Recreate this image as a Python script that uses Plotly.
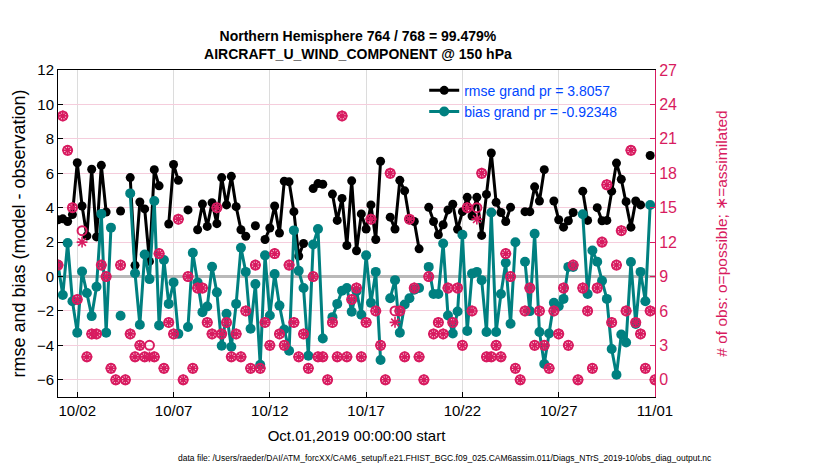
import numpy as np
import pandas as pd
import plotly.graph_objs as go

nan = np.nan

# 6-hourly bins, 2019-10-01 00:00 .. 2019-11-01 00:00
times = pd.date_range('2019-10-01 00:00', periods=125, freq='6h')

rmse = [3.30, 3.35, 3.20, 3.60, 6.61, 4.10, 2.36, 6.23, 2.30, 6.46,
        3.75, nan, nan, 3.81, nan, 5.75, 0.65, 4.33, 3.93, 0.88,
        6.21, 5.27, nan, 3.05, 6.51, 5.59, nan, 3.87, nan, 2.72,
        4.21, 2.91, 4.29, 3.07, 5.75, 4.16, 5.82, 4.06, 2.72, 2.34,
        nan, 2.95, nan, 2.15, 2.82, 4.10, 2.53, 5.54, 5.50, 3.77,
        1.19, 1.92, nan, 5.11, 5.40, 5.36, nan, 4.79, 3.26, 4.54,
        1.80, 5.56, 1.50, 3.64, 2.76, 4.16, 2.15, 6.70, nan, 3.45,
        2.76, 5.59, 4.98, 3.30, 3.20, 1.61, nan, 4.02, 3.20, 2.43,
        3.01, 3.87, 4.20, 2.75, 3.77, 4.60, 3.52, 4.60, 2.39, 4.77,
        7.18, 4.31, 3.72, 3.20, 4.02, nan, nan, 3.77, 3.77, 5.21,
        4.39, 6.21, nan, 4.39, 3.30, 2.87, 3.24, 3.72, nan, 4.96,
        3.26, nan, 4.00, 3.24, 3.26, 4.96, 6.59, 5.65, 4.35, 2.87,
        4.39, 4.16, nan, 7.03, nan]

bias = [0.68, -1.07, 1.95, -1.44, -3.26, 0.29, -0.96, -2.30, -0.59, 3.64,
        -3.26, 2.84, nan, -2.28, nan, 4.83, 0.19, -2.80, 1.28, -0.15,
        4.39, -2.84, 0.96, -1.59, -0.34, -3.33, nan, -2.93, 1.38, -0.34,
        -2.07, -1.74, 0.57, -0.92, -4.02, -2.16, -4.08, -1.59, 1.67, 0.27,
        -3.03, -0.44, -5.13, 1.23, -2.26, 0.15, -1.69, -3.08, -4.31, 2.68,
        0.33, -0.67, -4.60, 1.86, 2.76, -3.60, nan, -2.36, -1.59, -0.82,
        -0.67, -2.05, -0.85, -2.22, 1.23, -1.53, 0.27, -4.85, nan, -1.26,
        -0.21, -3.26, -1.63, -1.26, -0.77, -0.67, nan, 0.56, -1.02, -1.02,
        1.92, -2.26, -3.31, -2.03, 2.43, -3.16, 0.17, 0.27, -0.21, -3.22,
        3.72, -3.22, -1.02, 0.80, -2.74, 1.99, nan, 0.86, -2.01, 2.49,
        -3.22, -5.08, -3.31, -1.53, -1.72, -1.30, 0.56, 0.56, nan, 3.62,
        -1.02, 1.51, 0.86, -0.25, -1.30, -4.21, -5.71, -3.37, -3.83, 0.84,
        -2.76, 0.27, -1.44, 4.16, nan]

nposs = [10, 23, 20, 15, 7, 13, 2, 4, 4, 10,
         9, 1, 0, 10, 0, 4, 2, 3, 2, 3,
         2, 11, 1, 5, 4, 14, 0, 9, 1, 8,
         8, 5, 4, 15, 4, 5, 2, 4, 2, 6,
         1, 10, 1, 5, 3, 11, 4, 3, 10, 5,
         2, 4, 1, 9, 2, 2, 0, 5, 2, 23,
         2, 7, 8, 2, 5, 14, 6, 3, 0, 18,
         6, 6, 2, 14, 8, 2, 0, 9, 4, 5,
         4, 8, 5, 8, 3, 15, 6, 15, 18, 2,
         2, 3, 2, 11, 9, 1, 0, 6, 8, 3,
         6, 3, 1, 6, 4, 8, 3, 10, 0, 8,
         6, 1, 8, 12, 17, 5, 10, 13, 6, 20,
         5, 4, 1, 6, 0]

nused = [10, 23, 20, 15, 7, 12, 2, 4, 4, 10,
         9, 1, 0, 10, 0, 4, 2, 3, 2, 2,
         2, 11, 1, 5, 4, 14, 0, 9, 1, 8,
         8, 5, 4, 15, 4, 5, 2, 4, 2, 6,
         1, 10, 1, 5, 3, 11, 4, 3, 10, 5,
         2, 4, 1, 9, 2, 2, 0, 5, 2, 23,
         2, 7, 8, 2, 5, 14, 6, 3, 0, 18,
         5, 6, 2, 14, 8, 2, 0, 9, 4, 5,
         4, 8, 5, 8, 3, 15, 6, 14, 18, 2,
         2, 3, 2, 11, 9, 1, 0, 6, 8, 3,
         6, 3, 1, 6, 4, 8, 3, 10, 0, 8,
         6, 1, 8, 12, 17, 5, 10, 13, 6, 20,
         5, 4, 1, 6, 0]

tick_dates = ['2019-10-02', '2019-10-07', '2019-10-12', '2019-10-17',
              '2019-10-22', '2019-10-27', '2019-11-01']
tick_text = ['10/02', '10/07', '10/12', '10/17', '10/22', '10/27', '11/01']

teal = 'rgb(0,128,128)'
pink = 'rgb(216,27,96)'
font = 'Liberation Sans, Arial, sans-serif'

trace_rmse = go.Scatter(
    x=times, y=rmse, mode='lines+markers', name='rmse grand pr = 3.8057',
    line=dict(color='black', width=3),
    marker=dict(symbol='circle', size=9, color='black'),
    connectgaps=False
)
trace_bias = go.Scatter(
    x=times, y=bias, mode='lines+markers', name='bias grand pr = -0.92348',
    line=dict(color=teal, width=3),
    marker=dict(symbol='circle', size=10, color=teal),
    connectgaps=False
)
trace_poss = go.Scatter(
    x=times, y=nposs, mode='markers', yaxis='y2', showlegend=False,
    marker=dict(symbol='circle-open', size=9, color=pink, line=dict(width=2))
)
trace_used = go.Scatter(
    x=times, y=nused, mode='markers', yaxis='y2', showlegend=False,
    marker=dict(symbol='asterisk-open', size=9, color=pink, line=dict(width=1.6))
)

fig = go.Figure(data=[trace_rmse, trace_bias, trace_poss, trace_used])

# page body adds an 8px offset, margins compensate for it
fig.update_layout(
    width=830, height=470,
    margin=dict(l=50, r=183, t=62, b=81, autoexpand=False),
    paper_bgcolor='white', plot_bgcolor='white',
    font=dict(family=font, size=15, color='black'),
    title=dict(
        text='<b>Northern Hemisphere 764 / 768 = 99.479%<br>AIRCRAFT_U_WIND_COMPONENT @ 150 hPa</b>',
        x=0.4216, xanchor='center', y=0.93, yanchor='top',
        font=dict(size=14, color='black')
    ),
    xaxis=dict(
        type='date', automargin=False,
        range=['2019-10-01 00:00', '2019-11-01 00:00'],
        tickvals=tick_dates, ticktext=tick_text,
        showgrid=True, gridcolor='rgb(220,220,220)', gridwidth=1,
        showline=True, linecolor='black', linewidth=1, mirror=True,
        ticks='inside', ticklen=5, tickcolor='black',
        title=dict(text='Oct.01,2019 00:00:00 start', standoff=12, font=dict(size=15)),
        zeroline=False
    ),
    yaxis=dict(
        range=[-7, 12], automargin=False,
        tickvals=list(range(-6, 13, 2)),
        showgrid=True, gridcolor='rgb(245,205,220)', gridwidth=1,
        zeroline=True, zerolinecolor='rgb(185,185,185)', zerolinewidth=2.5,
        showline=True, linecolor='black', linewidth=1,
        ticks='inside', ticklen=5, tickcolor='black',
        title=dict(text='rmse and bias (model - observation)', standoff=6)
    ),
    yaxis2=dict(
        overlaying='y', side='right', automargin=False,
        range=[-1.5, 27],
        tickvals=list(range(0, 28, 3)),
        showgrid=False, zeroline=False,
        showline=True, linecolor=pink, linewidth=1,
        ticks='inside', ticklen=5, tickcolor=pink,
        tickfont=dict(color=pink, size=16),
        title=dict(text='# of obs: o=possible; \u2217=assimilated',
                   font=dict(color=pink, size=15.5), standoff=40)
    ),
    legend=dict(
        x=0.6134, y=0.9855, xanchor='left', yanchor='top',
        bgcolor='rgba(0,0,0,0)', borderwidth=0,
        font=dict(size=14, color='rgb(0,70,255)'),
        tracegroupgap=0, itemwidth=30
    ),
    annotations=[dict(
        text='data file: /Users/raeder/DAI/ATM_forcXX/CAM6_setup/f.e21.FHIST_BGC.f09_025.CAM6assim.011/Diags_NTrS_2019-10/obs_diag_output.nc',
        xref='paper', yref='paper', x=0.648, y=-0.187, xanchor='center', yanchor='middle',
        showarrow=False, font=dict(size=8.5, color='black')
    )]
)

fig.write_html("out.html")
